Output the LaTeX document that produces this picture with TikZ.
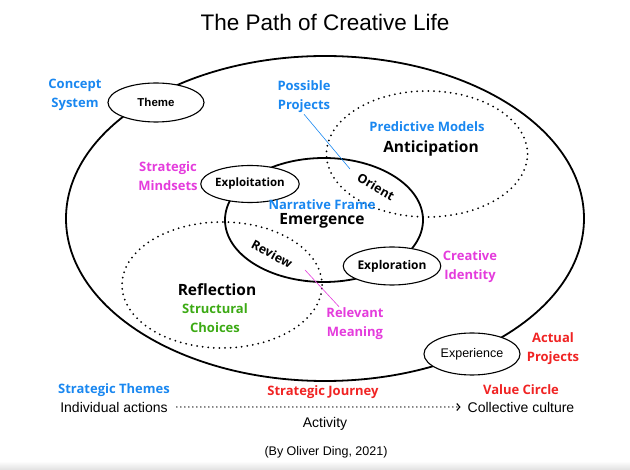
\documentclass[tikz,border=0pt]{standalone}
\usepackage{fontspec}
\setmainfont{Liberation Sans}
\newfontfamily\osf{Open Sans}
\usetikzlibrary{arrows.meta,shapes.geometric}
\definecolor{cblue}{RGB}{25,135,240}
\definecolor{cmag}{RGB}{228,60,220}
\definecolor{cgreen}{RGB}{60,170,20}
\definecolor{cred}{RGB}{240,35,35}
\begin{document}
\begin{tikzpicture}[x=1pt,y=-1pt,
  bigsolid/.style={ellipse, draw, line width=1.8pt, inner sep=0pt, outer sep=0pt},
  bigdot/.style={ellipse, draw, line width=2pt, dash pattern=on 0pt off 5.6pt, line cap=round, inner sep=0pt},
  smallell/.style={ellipse, draw, line width=1.1pt, fill=white, inner sep=0pt},
  ctext/.style={font=\osf\bfseries\fontsize{13}{19}\selectfont, align=center, inner sep=1pt},
  lbl/.style={font=\osf\bfseries\fontsize{12.5}{15}\selectfont, inner sep=0pt},
  biglbl/.style={font=\osf\bfseries\fontsize{15.5}{18}\selectfont, inner sep=0pt},
  btext/.style={font=\fontsize{14}{16}\selectfont, inner sep=1pt},
  cline/.style={line width=0.6pt}
]
\useasboundingbox (0,0) rectangle (630,470);
\shade[top color=white, bottom color=black!12] (0,461) rectangle (630,470);

\node[font=\fontsize{22.5}{26}\selectfont] (title) at (325,22) {The Path of Creative Life};

% outer ellipse and big dotted regions
\node[bigsolid, minimum width=518pt, minimum height=325pt] (outer) at (325,218.5) {};
\node[bigdot, minimum width=201pt, minimum height=126pt] (antic) at (427,154) {};
\node[bigdot, minimum width=200pt, minimum height=126pt] (refl) at (222,285) {};
\node[bigsolid, minimum width=198pt, minimum height=124pt] (emerg) at (324,220) {};

% small ellipses
\node[smallell, minimum width=96pt, minimum height=39pt, font=\bfseries\fontsize{11.5}{13}\selectfont] (theme) at (156,102.5) {Theme};
\node[smallell, minimum width=94pt, minimum height=37pt, font=\osf\bfseries\fontsize{11.5}{14}\selectfont] (exploit) at (250,184) {Exploitation};
\node[smallell, minimum width=96pt, minimum height=38pt, font=\osf\bfseries\fontsize{12}{14}\selectfont] (explor) at (392,266) {Exploration};
\node[smallell, minimum width=96pt, minimum height=42pt, font=\fontsize{12.5}{14}\selectfont] (exper) at (472,354) {Experience};

% region labels
\node[lbl, rotate=-30] (orient) at (376,187) {Orient};
\node[lbl, rotate=-28] (review) at (272,254) {Review};
\node[biglbl] (anticl) at (431,148) {Anticipation};
\node[biglbl] (emergl) at (322,221) {Emergence};
\node[biglbl] (refll) at (217,290) {Reflection};

% coloured annotations
\node[ctext, text=cblue] (concept) at (75,94.5) {Concept\\System};
\node[ctext, text=cblue] (possible) at (304,97) {Possible\\Projects};
\node[ctext, text=cblue] (predict) at (427,127) {Predictive Models};
\node[ctext, text=cblue] (narr) at (322,205) {Narrative Frame};
\node[ctext, text=cmag] (mind) at (168,176.5) {Strategic\\Mindsets};
\node[ctext, text=cmag] (ident) at (470,266.5) {Creative\\Identity};
\node[ctext, text=cgreen] (struct) at (215,318.5) {Structural\\Choices};
\node[ctext, text=cmag] (relev) at (355,324) {Relevant\\Meaning};
\node[ctext, text=cred] (actual) at (553,349) {Actual\\Projects};

\coordinate (orientpt) at (350,169);
\coordinate (reviewpt) at (305,270);
\draw[cline, cblue] (possible.south) -- (orientpt);
\draw[cline, cmag] (reviewpt) -- (relev);

% bottom
\node[ctext, text=cblue] (sthemes) at (114,390) {Strategic Themes};
\node[btext] (indiv) at (114,407) {Individual actions};
\node[ctext, text=cred] (sjourney) at (323,392) {Strategic Journey};
\node[ctext, text=cred] (value) at (521,390) {Value Circle};
\node[btext] (collect) at (521,407) {Collective culture};
\node[btext] (activity) at (325,424) {Activity};
\node[font=\fontsize{12.5}{14}\selectfont] (credit) at (326,452) {(By Oliver Ding, 2021)};

\draw[line width=1.5pt, dash pattern=on 0pt off 4pt, line cap=round,
      -{Straight Barb[length=3pt,width=7pt,line width=1.1pt]},
      shorten <=8pt, shorten >=6pt] (indiv.east) -- (collect.west);
\end{tikzpicture}
\end{document}
